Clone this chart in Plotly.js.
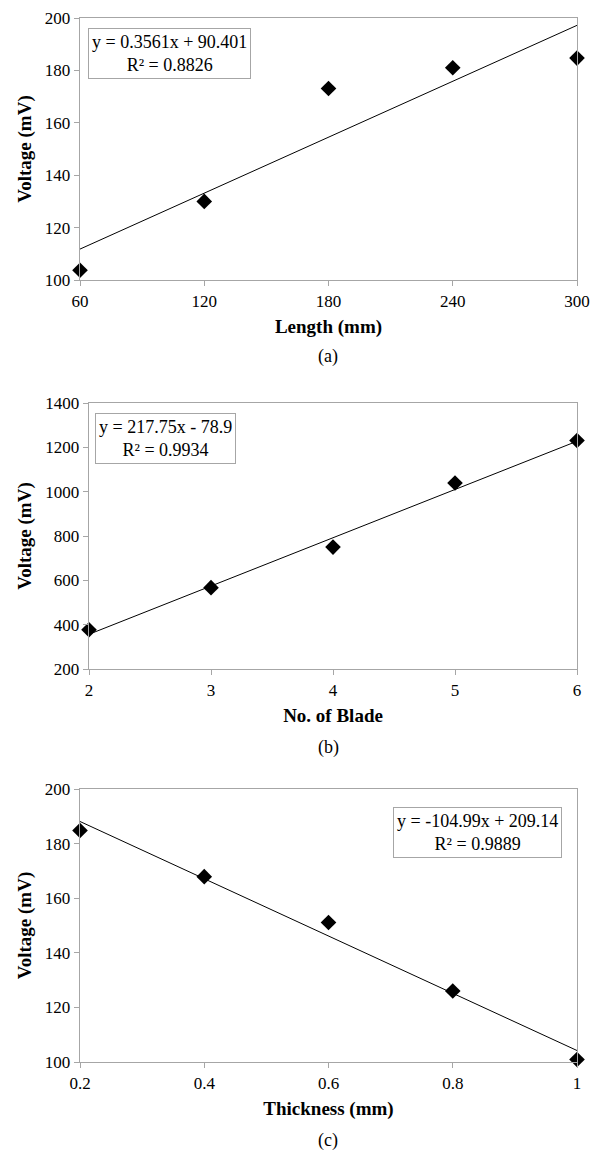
<!DOCTYPE html>
<html>
<head>
<meta charset="utf-8">
<script src="https://cdn.plot.ly/plotly-3.0.1.min.js"></script>
<style>html,body{margin:0;padding:0;background:#fff;}#chart{width:602px;height:1168px;}</style>
</head>
<body>
<div id="chart"></div>
<script>
// Panel (a): Length
const lengthMm = [60, 120, 180, 240, 300];
const voltageA = [103.7, 130, 173.1, 181, 184.7];
const trendAx = [60, 300];
const trendAy = [111.8, 197.2];
const eqA = "y = 0.3561x + 90.401<br>R² = 0.8826";

// Panel (b): Number of blades
const blades = [2, 3, 4, 5, 6];
const voltageB = [377, 567, 750, 1039, 1231];
const trendBx = [2, 6];
const trendBy = [356.6, 1227.6];
const eqB = "y = 217.75x - 78.9<br>R² = 0.9934";

// Panel (c): Thickness
const thickness = [0.2, 0.4, 0.6, 0.8, 1.0];
const voltageC = [184.8, 167.9, 151.1, 126, 100.9];
const trendCx = [0.2, 1.0];
const trendCy = [188.1, 104.2];
const eqC = "y = -104.99x + 209.14<br>R² = 0.9889";

const xTitles = ["Length (mm)", "No. of Blade", "Thickness (mm)"];
const panelLabels = ["(a)", "(b)", "(c)"];
const yTitle = "Voltage (mV)";

const H = 1168, W = 602;
const FONT = "Liberation Serif, DejaVu Serif, Noto Serif, serif";
const GRAY = "#a6a6a6";

function pts(x, y, xa, ya) {
  return {x: x, y: y, xaxis: xa, yaxis: ya, type: "scatter", mode: "markers",
    marker: {symbol: "diamond", size: 12, color: "#000"}, cliponaxis: false, showlegend: false, hoverinfo: "skip"};
}
function line(x, y, xa, ya) {
  return {x: x, y: y, xaxis: xa, yaxis: ya, type: "scatter", mode: "lines",
    line: {color: "#000", width: 1}, showlegend: false, hoverinfo: "skip"};
}

const data = [
  line(trendAx, trendAy, "x", "y"), pts(lengthMm, voltageA, "x", "y"),
  line(trendBx, trendBy, "x2", "y2"), pts(blades, voltageB, "x2", "y2"),
  line(trendCx, trendCy, "x3", "y3"), pts(thickness, voltageC, "x3", "y3")
];

// pixel boxes [left, right, top, bottom]
const boxes = [[80, 577, 18, 280], [89, 577, 403, 669], [80, 577, 789, 1062]];
function dx(b) { return [b[0] / W, b[1] / W]; }
function dy(b) { return [1 - b[3] / H, 1 - b[2] / H]; }

function xax(b, range, dtick, title, anchor) {
  return {domain: dx(b), range: range, dtick: dtick, tick0: range[0], anchor: anchor,
    showline: true, linecolor: GRAY, linewidth: 1.3, mirror: true, ticks: "outside", ticklen: 5,
    tickcolor: GRAY, tickwidth: 1, showgrid: false, zeroline: false,
    tickfont: {family: FONT, size: 17, color: "#000"},
    title: {text: title, font: {family: FONT, size: 19, color: "#000", weight: "bold"}, standoff: 10}};
}
function yax(b, range, dtick, anchor) {
  return {domain: dy(b), range: range, dtick: dtick, tick0: range[0], anchor: anchor,
    showline: true, linecolor: GRAY, linewidth: 1.3, mirror: true, ticks: "outside", ticklen: 5,
    tickcolor: GRAY, tickwidth: 1, showgrid: false, zeroline: false,
    tickfont: {family: FONT, size: 17, color: "#000"},
    title: {text: yTitle, font: {family: FONT, size: 19, color: "#000", weight: "bold"}, standoff: 8}};
}

function eqBox(text, xref, yref, x, y, xanchor) {
  return {text: text, xref: xref, yref: yref, x: x, y: y, xanchor: xanchor, yanchor: "top",
    showarrow: false, align: "center", bordercolor: GRAY, borderwidth: 1, borderpad: 3, bgcolor: "#fff",
    font: {family: FONT, size: 18, color: "#000"}};
}
function label(text, ypix) {
  return {text: text, xref: "paper", yref: "paper", x: 328 / W, y: 1 - ypix / H, xanchor: "center", yanchor: "middle",
    showarrow: false, font: {family: FONT, size: 18, color: "#000"}};
}

const layout = {
  width: W, height: H, margin: {l: 0, r: 0, t: 0, b: 0},
  paper_bgcolor: "#fff", plot_bgcolor: "#fff",
  font: {family: FONT},
  xaxis: xax(boxes[0], [60, 300], 60, xTitles[0], "y"),
  yaxis: yax(boxes[0], [100, 200], 20, "x"),
  xaxis2: xax(boxes[1], [2, 6], 1, xTitles[1], "y2"),
  yaxis2: yax(boxes[1], [200, 1400], 200, "x2"),
  xaxis3: xax(boxes[2], [0.2, 1.0], 0.2, xTitles[2], "y3"),
  yaxis3: yax(boxes[2], [100, 200], 20, "x3"),
  annotations: [
    eqBox(eqA, "x domain", "y domain", 0.016, 0.962, "left"),
    eqBox(eqB, "x2 domain", "y2 domain", 0.012, 0.962, "left"),
    eqBox(eqC, "x3 domain", "y3 domain", 0.97, 0.935, "right"),
    label(panelLabels[0], 357), label(panelLabels[1], 747), label(panelLabels[2], 1140)
  ]
};

Plotly.newPlot("chart", data, layout, {displayModeBar: false, staticPlot: true});
</script>
</body>
</html>
